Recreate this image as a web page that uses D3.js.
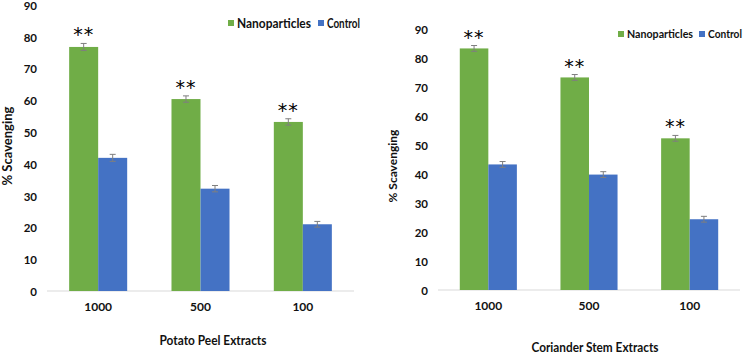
<!DOCTYPE html>
<html><head><meta charset="utf-8">
<script src="https://cdn.jsdelivr.net/npm/d3@7"></script>
<style>
html,body{margin:0;padding:0;background:#fff;}
svg{display:block;font-family:Lato,"Open Sans",sans-serif;font-weight:bold;}
</style></head>
<body>
<svg id="chart" width="750" height="354"></svg>
<script>
const categories = ["1000", "500", "100"];
const seriesNames = ["Nanoparticles", "Control"];
const yTicks = [0, 10, 20, 30, 40, 50, 60, 70, 80, 90];

const potatoNano = [76.8, 60.4, 53.2];
const potatoControl = [41.9, 32.2, 21.0];
const potatoNanoErr = [1.1, 1.0, 1.0];
const potatoControlErr = [1.1, 1.0, 0.9];

const corianderNano = [83.3, 73.3, 52.3];
const corianderControl = [43.3, 39.8, 24.4];
const corianderNanoErr = [1.0, 1.0, 1.0];
const corianderControlErr = [1.0, 1.0, 1.0];

const significance = ["**", "**", "**"];

const colors = ["#70ad47", "#4472c4"];
const textColor = "#111";

const svg = d3.select("#chart");

// squeeze text horizontally to a target width while keeping its height
function squeeze(sel, target) {
  const w = sel.node().getComputedTextLength();
  if (w > target) sel.attr("textLength", target).attr("lengthAdjust", "spacingAndGlyphs");
}

function panel(cfg) {
  const g = svg.append("g");
  const x = d3.scaleBand().domain(categories).range([cfg.x0, cfg.x1])
    .paddingInner(0.433).paddingOuter(0.2165);
  const xs = d3.scaleBand().domain(seriesNames).range([0, x.bandwidth()]);
  const y = d3.scaleLinear().domain([0, 90]).range([cfg.yb, cfg.yt]);

  // y tick labels
  const yAxis = d3.axisLeft(y).tickValues(yTicks).tickSize(0).tickPadding(10);
  const ya = g.append("g").attr("transform", `translate(${cfg.x0},0)`).call(yAxis);
  ya.select(".domain").remove();
  ya.selectAll("text").attr("font-size", 11.5).attr("fill", textColor)
    .attr("font-family", "Lato").attr("font-weight", "bold").attr("dy", "0.38em");

  // baseline
  g.append("line").attr("x1", cfg.x0).attr("x2", cfg.x1)
    .attr("y1", y(0)).attr("y2", y(0)).attr("stroke", "#d9d9d9").attr("stroke-width", 1);

  const data = categories.map((c, i) => ({
    c,
    vals: [
      { s: seriesNames[0], v: cfg.nano[i], e: cfg.nanoErr[i] },
      { s: seriesNames[1], v: cfg.ctrl[i], e: cfg.ctrlErr[i] }
    ]
  }));

  const grp = g.selectAll(".grp").data(data).join("g")
    .attr("transform", d => `translate(${x(d.c)},0)`);
  grp.selectAll("rect").data(d => d.vals).join("rect")
    .attr("x", d => xs(d.s)).attr("width", xs.bandwidth())
    .attr("y", d => y(d.v)).attr("height", d => y(0) - y(d.v))
    .attr("fill", (d, i) => colors[i]);

  // error bars
  const eb = grp.selectAll(".eb").data(d => d.vals).join("g").attr("class", "eb")
    .attr("stroke", "#7f7f7f").attr("stroke-width", 1);
  eb.append("line")
    .attr("x1", d => xs(d.s) + xs.bandwidth() / 2).attr("x2", d => xs(d.s) + xs.bandwidth() / 2)
    .attr("y1", d => y(d.v + d.e)).attr("y2", d => y(d.v - d.e));
  eb.append("line")
    .attr("x1", d => xs(d.s) + xs.bandwidth() / 2 - 3).attr("x2", d => xs(d.s) + xs.bandwidth() / 2 + 3)
    .attr("y1", d => y(d.v + d.e)).attr("y2", d => y(d.v + d.e));
  eb.append("line")
    .attr("x1", d => xs(d.s) + xs.bandwidth() / 2 - 3).attr("x2", d => xs(d.s) + xs.bandwidth() / 2 + 3)
    .attr("y1", d => y(d.v - d.e)).attr("y2", d => y(d.v - d.e));

  // significance stars
  grp.append("text")
    .attr("x", xs(seriesNames[0]) + xs.bandwidth() / 2)
    .attr("y", (d, i) => y(d.vals[0].v + d.vals[0].e) - 2)
    .attr("text-anchor", "middle").attr("font-size", 19).attr("fill", "#000")
    .attr("font-family", "DejaVu Sans").attr("font-weight", "normal")
    .attr("letter-spacing", 1)
    .text((d, i) => significance[i]);

  // category labels
  const xAxis = d3.axisBottom(x).tickSize(0).tickPadding(11);
  const xa = g.append("g").attr("transform", `translate(0,${y(0)})`).call(xAxis);
  xa.select(".domain").remove();
  xa.selectAll("text").attr("font-size", 12).attr("fill", textColor)
    .attr("font-family", "Lato").attr("font-weight", "bold");

  // x title
  const xt = g.append("text").attr("x", cfg.titleX).attr("y", cfg.titleY)
    .attr("text-anchor", "middle").attr("fill", textColor).attr("font-size", cfg.titleFs)
    .text(cfg.title);
  squeeze(xt, cfg.titleW);

  // y title
  const yt = g.append("text")
    .attr("transform", `translate(${cfg.yTitleX},${cfg.yTitleY}) rotate(-90)`)
    .attr("text-anchor", "middle").attr("fill", textColor).attr("font-size", cfg.yTitleFs)
    .text("% Scavenging");
  squeeze(yt, cfg.yTitleW);

  // legend
  const lg = g.append("g").attr("transform", `translate(${cfg.legX},${cfg.legY})`);
  let off = 0;
  seriesNames.forEach((s, i) => {
    lg.append("rect").attr("x", off).attr("y", -3).attr("width", 6).attr("height", 6).attr("fill", colors[i]);
    const t = lg.append("text").attr("x", off + 9).attr("y", 0).attr("dy", "0.36em")
      .attr("fill", textColor).attr("font-size", cfg.legFs).text(s);
    squeeze(t, cfg.legW[i]);
    off += 9 + cfg.legW[i] + cfg.legGap;
  });
}

panel({
  x0: 47, x1: 354, yb: 291, yt: 5,
  nano: potatoNano, ctrl: potatoControl, nanoErr: potatoNanoErr, ctrlErr: potatoControlErr,
  title: "Potato Peel Extracts", titleX: 213, titleY: 345, titleW: 107, titleFs: 13,
  yTitleX: 12, yTitleY: 146, yTitleW: 82, yTitleFs: 13,
  legX: 228, legY: 23, legW: [74, 33], legGap: 7, legFs: 12.5
});
panel({
  x0: 438, x1: 740, yb: 290, yt: 29,
  nano: corianderNano, ctrl: corianderControl, nanoErr: corianderNanoErr, ctrlErr: corianderControlErr,
  title: "Coriander Stem Extracts", titleX: 595, titleY: 352, titleW: 127, titleFs: 13,
  yTitleX: 397, yTitleY: 166, yTitleW: 75, yTitleFs: 12,
  legX: 618, legY: 34, legW: [66, 34], legGap: 6, legFs: 12
});
</script>
</body></html>
